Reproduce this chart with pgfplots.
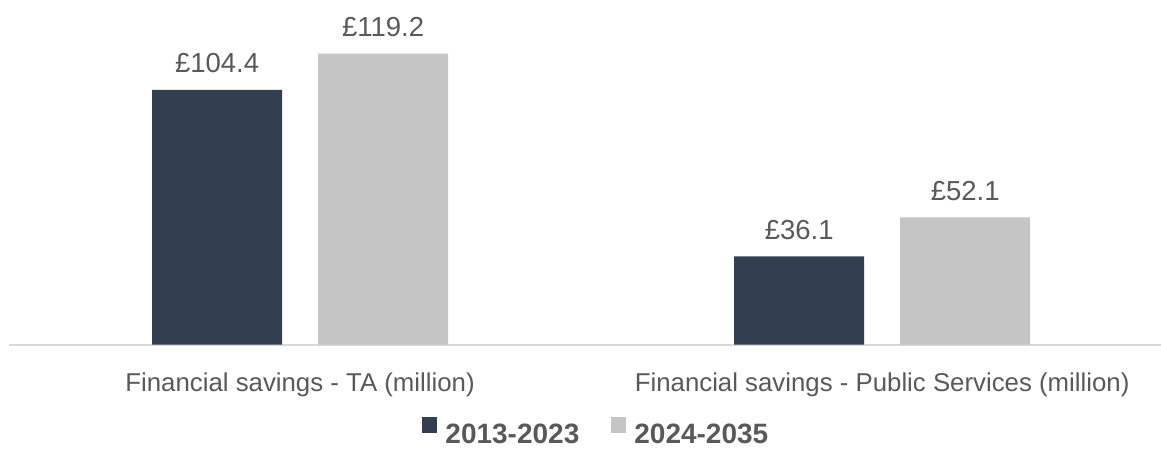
\documentclass[border=0pt]{standalone}
\usepackage{fontspec}
\setmainfont{Liberation Sans}
\usepackage{pgfplots}
\pgfplotsset{compat=1.18}
\definecolor{darkbar}{HTML}{333F50}
\definecolor{lightbar}{HTML}{C5C5C5}
\definecolor{txt}{HTML}{595959}
\definecolor{axisline}{HTML}{D9D9D9}
\begin{document}
\begin{tikzpicture}
\useasboundingbox (0,0) rectangle (1161pt,450pt);
\begin{axis}[
  at={(9pt,105.5pt)}, anchor=south west,
  scale only axis, width=1152pt, height=341.6pt,
  xmin=-0.5, xmax=1.479, ymin=0, ymax=140,
  axis y line=none, axis x line*=bottom,
  x axis line style={draw=axisline, line width=2pt, -},
  xtick={0,1},
  xticklabels={Financial savings - TA (million), Financial savings - Public Services (million)},
  major tick length=0pt,
  xticklabel style={font=\fontsize{25.8}{30}\selectfont, text=txt, anchor=base, inner sep=0pt, yshift=-46.5pt},
  ybar, bar width=130pt,
  clip=false,
  /pgf/number format/assume math mode=true,
  nodes near coords={£\pgfmathprintnumber{\pgfplotspointmeta}},
  every node near coord/.append style={font=\fontsize{27.5}{30}\selectfont, text=txt, anchor=base, inner sep=0pt, yshift=17pt},
  legend style={at={(0.509,-0.294)}, anchor=south, draw=none, fill=none, inner sep=0pt, outer sep=0pt,
    font=\bfseries\fontsize{28}{30}\selectfont, text=txt,
    nodes={inner sep=0pt},
    /tikz/every odd column/.append style={column sep=8pt},
    /tikz/every even column/.append style={column sep=32pt}},
  legend columns=2,
  legend image code/.code={\fill[#1] (0pt,1pt) rectangle (15pt,17pt);},
]
\addplot[fill=darkbar, draw=none, bar shift=-83pt] coordinates {(0,104.4) (1,36.1)};
\addplot[fill=lightbar, draw=none, bar shift=83pt] coordinates {(0,119.2) (1,52.1)};
\legend{2013-2023, 2024-2035}
\end{axis}
\end{tikzpicture}
\end{document}
